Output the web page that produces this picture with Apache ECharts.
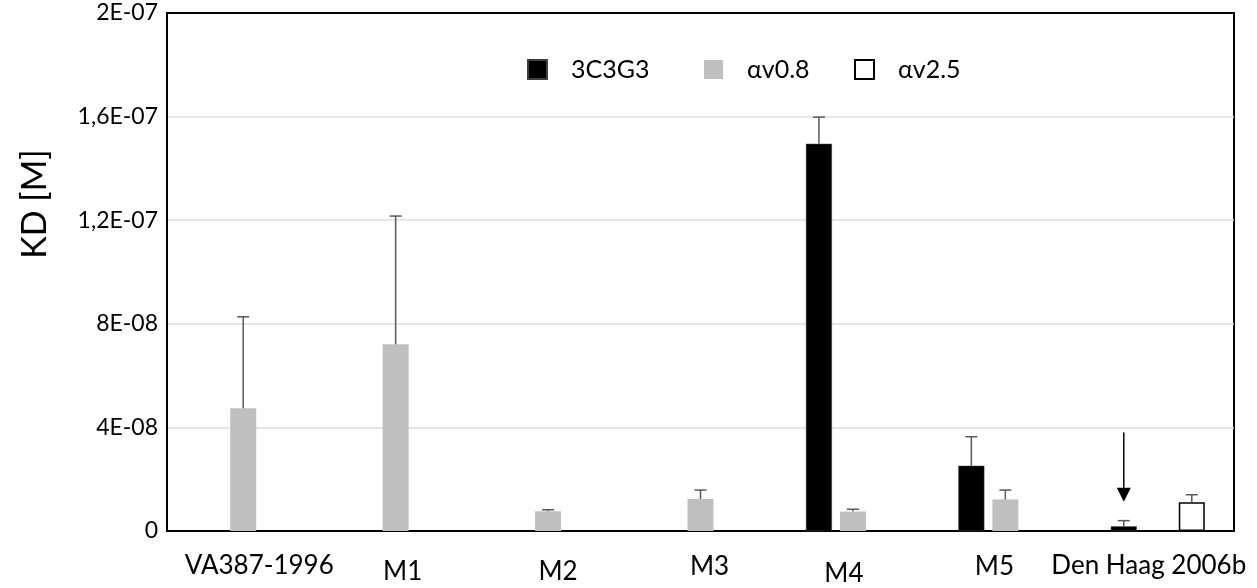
<!DOCTYPE html>
<html>
<head>
<meta charset="utf-8">
<script src="https://cdn.jsdelivr.net/npm/echarts@6/dist/echarts.min.js"></script>
<style>
html,body{margin:0;padding:0;background:#fff;}
#c{width:1257px;height:588px;}
</style>
</head>
<body>
<div id="c"></div>
<script>
// ---- data ----
const categories = ['VA387-1996', 'M1', 'M2', 'M3', 'M4', 'M5', 'Den Haag 2006b'];
const seriesNames = ['3C3G3', 'αv0.8', 'αv2.5'];
const v3C3G3 = [null, null, null, null, 1.495e-7, 2.52e-8, 1.8e-9];
const e3C3G3 = [null, null, null, null, 1.598e-7, 3.64e-8, 4.0e-9];   // top of error bar
const vAv08 = [4.74e-8, 7.21e-8, 7.6e-9, 1.24e-8, 7.5e-9, 1.22e-8, null];
const eAv08 = [8.27e-8, 1.216e-7, 8.2e-9, 1.58e-8, 8.4e-9, 1.58e-8, null];
const vAv25 = [null, null, null, null, null, null, 1.11e-8];
const eAv25 = [null, null, null, null, null, null, 1.40e-8];
const yTickLabels = ['0', '4E-08', '8E-08', '1,2E-07', '1,6E-07', '2E-07'];
const arrowCategory = 6;            // arrow above the 3C3G3 bar of Den Haag 2006b
const arrowFromTo = [3.8e-8, 1.13e-8];

// ---- layout / style ----
const BAR_W = 26, BAR_GAP = 8;
const SLOT = BAR_W + BAR_GAP;
const labelShift = [[16, 0], [7, 6], [10, 6], [9, 1], [-9, 8], [-11, 1], [-9, 0]];
const FONT = 'Lato';

const rich = {};
labelShift.forEach((s, i) => {
  const dx = s[0], dy = s[1];
  rich['l' + i] = {
    fontFamily: FONT, fontSize: 26, color: '#000',
    padding: [dy, dx < 0 ? -2 * dx : 0, 0, dx > 0 ? 2 * dx : 0]
  };
});

function errSeries(values, tops, slotIdx) {
  const data = [];
  values.forEach((v, i) => { if (v != null && tops[i] != null) data.push([i, v, tops[i]]); });
  return {
    type: 'custom', silent: true, z: 3,
    data: data,
    renderItem: function (params, api) {
      const off = (slotIdx - 1) * SLOT;
      const p0 = api.coord([api.value(0), api.value(1)]);
      const p1 = api.coord([api.value(0), api.value(2)]);
      const x = p0[0] + off;
      const st = { stroke: '#595959', lineWidth: 1.5 };
      return {
        type: 'group', children: [
          { type: 'line', shape: { x1: x, y1: p0[1], x2: x, y2: p1[1] }, style: st },
          { type: 'line', shape: { x1: x - 6, y1: p1[1], x2: x + 6, y2: p1[1] }, style: st }
        ]
      };
    }
  };
}

const legendTextPad = [[0, 0, 0, 19], [6, 0, 0, 19], [0, 0, 3, 19]];
const legendLeft = [527, 704, 854];

const chart = echarts.init(document.getElementById('c'), null, { renderer: 'canvas' });
chart.setOption({
  animation: false,
  backgroundColor: '#fff',
  textStyle: { fontFamily: FONT },
  grid: { left: 167, right: 23, top: 13, bottom: 57, show: true, borderColor: '#000', borderWidth: 2 },
  legend: seriesNames.map((n, i) => ({
    data: [n], left: legendLeft[i], top: 57,
    orient: 'horizontal', padding: 0, itemWidth: 19, itemHeight: 19,
    icon: 'rect', selectedMode: false,
    textStyle: { fontFamily: FONT, fontSize: 25, color: '#000', padding: legendTextPad[i] }
  })),
  xAxis: {
    type: 'category', data: categories,
    axisLine: { lineStyle: { color: '#000', width: 2 } },
    axisTick: { show: false },
    axisLabel: {
      interval: 0, margin: 22,
      formatter: function (val, idx) { return '{l' + idx + '|' + val + '}'; },
      rich: rich
    }
  },
  yAxis: {
    type: 'value', min: 0, max: 2e-7, interval: 4e-8,
    name: 'KD [M]', nameLocation: 'middle', nameGap: 115,
    nameTextStyle: { fontFamily: FONT, fontSize: 34, color: '#000', padding: [0, 0, 0, 136] },
    axisLine: { show: true, lineStyle: { color: '#000', width: 2 } },
    axisTick: { show: false },
    splitLine: { showMaxLine: false, lineStyle: { color: '#dedede', width: 1.5 } },
    axisLabel: {
      margin: 9, fontFamily: FONT, fontSize: 23, color: '#000',
      formatter: function (v) { return yTickLabels[Math.round(v / 4e-8)]; }
    }
  },
  series: [
    { name: seriesNames[0], type: 'bar', data: v3C3G3, barWidth: BAR_W, barGap: (BAR_GAP / BAR_W * 100) + '%',
      itemStyle: { color: '#000', borderColor: '#404040', borderWidth: 0.5 } },
    { name: seriesNames[1], type: 'bar', data: vAv08, barWidth: BAR_W, barGap: (BAR_GAP / BAR_W * 100) + '%',
      itemStyle: { color: '#bfbfbf' } },
    { name: seriesNames[2], type: 'bar', data: vAv25, barWidth: BAR_W, barGap: (BAR_GAP / BAR_W * 100) + '%',
      itemStyle: { color: '#fff', borderColor: '#000', borderWidth: 1.5 } },
    errSeries(v3C3G3, e3C3G3, 0),
    errSeries(vAv08, eAv08, 1),
    errSeries(vAv25, eAv25, 2),
    {
      type: 'custom', silent: true, z: 4,
      data: [[arrowCategory, arrowFromTo[0], arrowFromTo[1]]],
      renderItem: function (params, api) {
        const a = api.coord([api.value(0), api.value(1)]);
        const b = api.coord([api.value(0), api.value(2)]);
        const x = a[0] - SLOT;
        const hw = 7, hh = 14;
        return {
          type: 'group', children: [
            { type: 'line', shape: { x1: x, y1: a[1], x2: x, y2: b[1] - hh + 1 }, style: { stroke: '#000', lineWidth: 1.5 } },
            { type: 'polygon', shape: { points: [[x - hw, b[1] - hh], [x + hw, b[1] - hh], [x, b[1]]] }, style: { fill: '#000' } }
          ]
        };
      }
    }
  ]
});
</script>
</body>
</html>
